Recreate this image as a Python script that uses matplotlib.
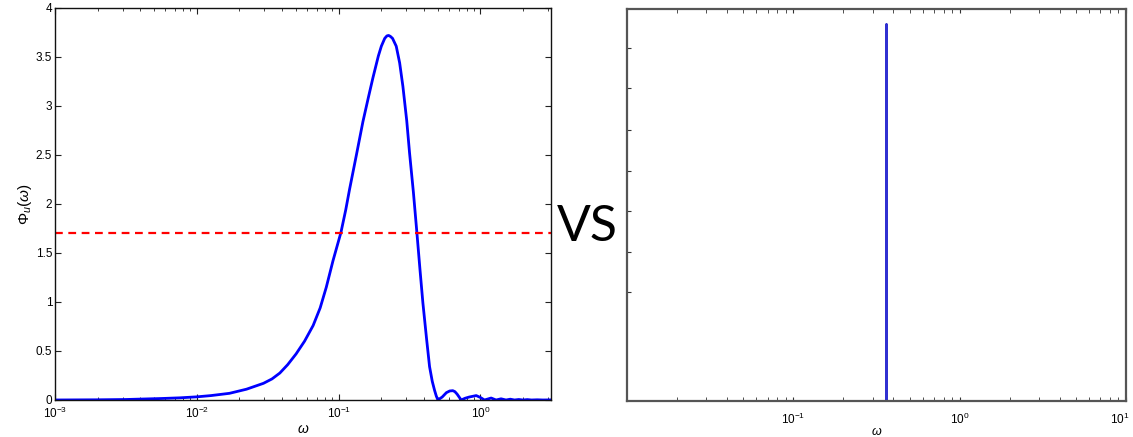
import matplotlib
matplotlib.use("Agg")
import matplotlib.pyplot as plt
from matplotlib.ticker import LogLocator, NullFormatter, FixedLocator, NullLocator
from matplotlib.transforms import ScaledTranslation

# ---- data: left panel, spectrum Phi_u(omega) ----
omega = [0.001, 0.002, 0.00316, 0.00562, 0.0076, 0.01, 0.0126, 0.0170, 0.0224,
         0.0295, 0.0339, 0.0385, 0.0437, 0.0501, 0.0575, 0.0661, 0.0741,
         0.0818, 0.0912, 0.1038, 0.1122, 0.1194, 0.1334, 0.1483, 0.1622,
         0.1746, 0.1905, 0.2, 0.2113, 0.2188, 0.2249, 0.2317, 0.2399, 0.2547,
         0.2692, 0.2838, 0.302, 0.3162, 0.3365, 0.3565, 0.3745, 0.3926, 0.417,
         0.4375, 0.4571, 0.4742, 0.488, 0.501, 0.537, 0.575, 0.607, 0.638, 0.66,
         0.684, 0.731, 0.78, 0.832, 0.933, 1.0, 1.067, 1.189, 1.288, 1.396,
         1.514, 1.622, 1.738, 1.862, 1.995, 2.138, 2.29, 2.512, 2.754, 3.14]
phi = [0.0, 0.002, 0.005, 0.015, 0.022, 0.032, 0.045, 0.068, 0.11,
       0.17, 0.215, 0.275, 0.36, 0.47, 0.60, 0.76, 0.94,
       1.15, 1.42, 1.71, 1.94, 2.15, 2.50, 2.84, 3.09,
       3.29, 3.51, 3.61, 3.69, 3.715, 3.72, 3.71, 3.69, 3.61,
       3.44, 3.20, 2.85, 2.52, 2.12, 1.70, 1.33, 0.99, 0.62,
       0.34, 0.19, 0.10, 0.04, 0.0, 0.03, 0.075, 0.092, 0.095, 0.085,
       0.06, 0.0, 0.018, 0.03, 0.045, 0.025, 0.0, 0.02, 0.0, 0.012,
       0.0, 0.008, 0.0, 0.005, 0.0, 0.004, 0.0, 0.002, 0.0, 0.001]
threshold = 1.7

# ---- data: right panel, single spike ----
omega_r = [0.0126, 0.36, 0.36, 0.36, 5.2]
phi_r = [0.0, 0.0, 3.85, 0.0, 0.0]

left_yticks = [0, 0.5, 1, 1.5, 2, 2.5, 3, 3.5, 4]
right_yticks = [1.11, 1.52, 1.94, 2.35, 2.77, 3.19, 3.60]

plt.rcParams['font.family'] = ['Liberation Sans', 'DejaVu Sans']
plt.rcParams['mathtext.fontset'] = 'custom'
plt.rcParams['mathtext.rm'] = 'Liberation Sans'
plt.rcParams['mathtext.it'] = 'Liberation Sans:italic'

fig = plt.figure(figsize=(11.33, 4.37), dpi=100)

# ---------------- left panel ----------------
ax1 = fig.add_axes([0.0485, 0.0847, 0.4378, 0.897])
ax1.plot(omega, phi, color='#0000ff', lw=2.0, solid_joinstyle='round')
ax1.axhline(threshold, color='#ff0000', lw=1.6, ls=(0, (3.5, 2.5)))
ax1.set_xscale('log')
ax1.set_xlim(1e-3, 3.14)
ax1.set_ylim(0, 4)
ax1.set_yticks(left_yticks)
ax1.set_yticklabels(['0', '0.5', '1', '1.5', '2', '2.5', '3', '3.5', '4'])
ax1.xaxis.set_major_locator(LogLocator(base=10, numticks=10))
ax1.xaxis.set_minor_locator(LogLocator(base=10, subs=range(2, 10), numticks=20))
ax1.xaxis.set_minor_formatter(NullFormatter())
ax1.tick_params(which='both', direction='in', top=True, right=True, labelsize=8.5,
                color='#222222')
ax1.tick_params(axis='y', pad=2)
ax1.tick_params(axis='x', pad=4)
ax1.tick_params(which='major', length=4)
ax1.tick_params(which='minor', length=2.5)
for s in ax1.spines.values():
    s.set_color('#111111')
    s.set_linewidth(1.0)
ax1.set_xlabel(r'$\omega$', fontsize=10, labelpad=1)
ax1.set_ylabel(r'$\Phi_u(\omega)$', fontsize=11, labelpad=1)

# ---------------- VS ----------------
fig.text(0.518, 0.48, 'VS', fontsize=36, family=['Lato', 'DejaVu Sans'],
         ha='center', va='center', color='black')

# ---------------- right panel ----------------
ax2 = fig.add_axes([0.5534, 0.0824, 0.4404, 0.897])
ax2.plot(omega_r, phi_r, color='#1a1acc', lw=1.8, alpha=0.9)
ax2.set_xscale('log')
ax2.set_xlim(1e-2, 10)
ax2.set_ylim(0, 4)
ax2.xaxis.set_major_locator(FixedLocator([0.1, 1, 10]))
ax2.xaxis.set_minor_locator(LogLocator(base=10, subs=range(2, 10), numticks=20))
ax2.xaxis.set_minor_formatter(NullFormatter())
ax2.set_yticks(right_yticks)
ax2.set_yticklabels([])
ax2.yaxis.set_minor_locator(NullLocator())
ax2.tick_params(which='both', direction='in', top=True, right=False, labelsize=8.5,
                color='#333333', pad=8)
ax2.tick_params(which='major', length=3)
ax2.tick_params(which='minor', length=3)
for s in ax2.spines.values():
    s.set_color('#555555')
    s.set_linewidth(1.6)
ax2.set_xlabel(r'$\omega$', fontsize=9, labelpad=-1)
fig.canvas.draw()
last = ax2.get_xticklabels()[-1]
last.set_transform(last.get_transform() + ScaledTranslation(-6 / 100, 0, fig.dpi_scale_trans))

fig.savefig('out.png', dpi=100)
